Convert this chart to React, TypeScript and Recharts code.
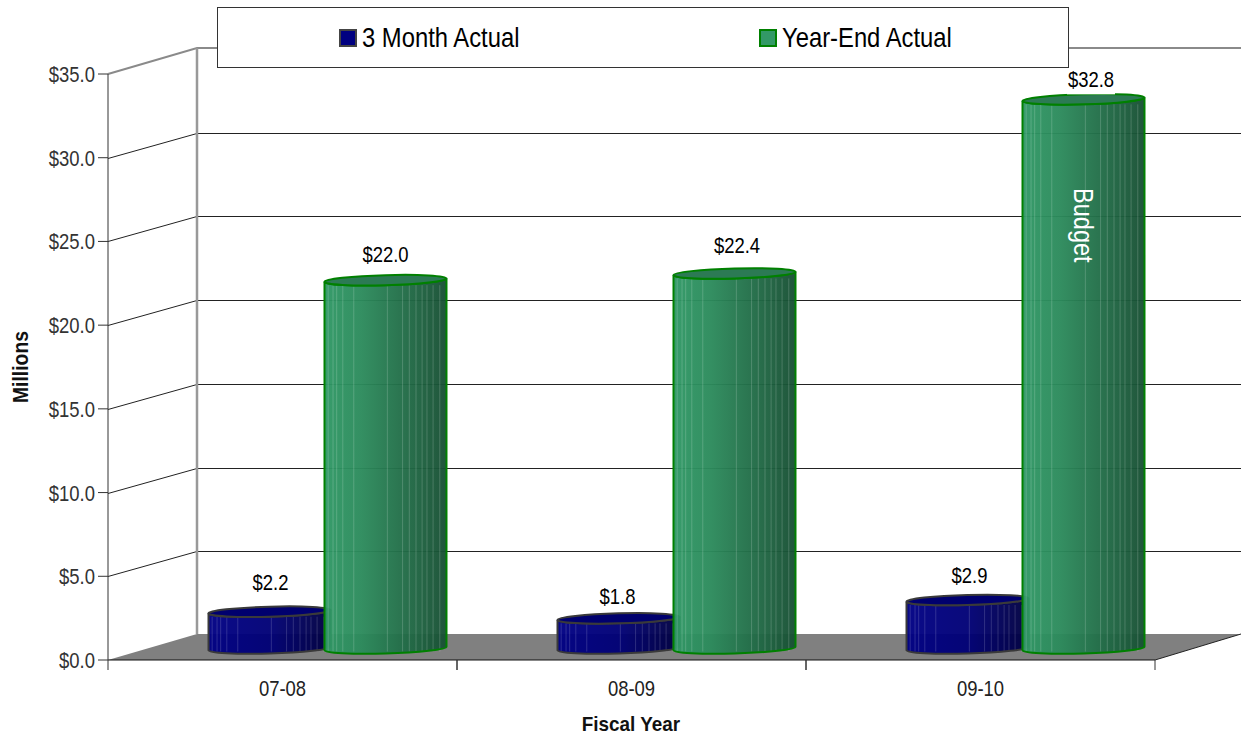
import { BarChart, Bar, XAxis, YAxis, CartesianGrid, LabelList } from "recharts";

const fiscalYears = ["07-08", "08-09", "09-10"];
const threeMonthActual = [2.2, 1.8, 2.9];
const yearEndActual = [22.0, 22.4, 32.8];
const yearEndNotes = ["", "", "Budget"];
const yTicks = [0, 5, 10, 15, 20, 25, 30, 35];

const rows = fiscalYears.map((year, i) => ({
  year,
  threeMonth: threeMonthActual[i],
  yearEnd: yearEndActual[i],
  note: yearEndNotes[i],
}));

const WIDTH = 1241;
const HEIGHT = 738;
const FONT = '"Liberation Sans", Arial, sans-serif';
const CONDENSE = 0.84;

// fake 3d: the back wall sits up and to the right of the axis plane
const WALL_DX = 89;
const WALL_DY = 26;
const BAR_DX = 44.5;
const BAR_DY = 11.5;
const BAND = 349;
const ELLIPSE_RY = 5;
const TILT = 1.7;

const STRIPES = [0.03, 0.07, 0.1, 0.15, 0.24, 0.515, 0.64, 0.695, 0.75, 0.8, 0.84, 0.89, 0.945];

// no narrow face is installed, so squeeze the regular one horizontally
function NarrowText(props: any) {
  const { x, y, size = 22, rotate = 0, squeeze = CONDENSE, anchor = "middle", fill = "#000", bold, children } = props;
  return (
    <text
      transform={`translate(${x},${y}) rotate(${rotate}) scale(${squeeze},1)`}
      textAnchor={anchor}
      fontFamily={FONT}
      fontSize={size}
      fontWeight={bold ? "bold" : "normal"}
      fill={fill}
    >
      {children}
    </text>
  );
}

function WallLine(props: any) {
  const { x1, x2, y1 } = props;
  const y = Math.round(y1);
  const bx = x1 + WALL_DX;
  const by = y - WALL_DY;
  const isTop = y <= 75;
  const isFloor = y >= 659;
  if (isFloor) {
    return (
      <g key="floor">
        <polygon
          points={`${x1},${y} ${bx},${by} ${WIDTH},${by} ${x2},${y}`}
          fill="#808080"
        />
        <line x1={x2} y1={y} x2={WIDTH} y2={by} stroke="#222" />
      </g>
    );
  }
  if (isTop) {
    return (
      <g key="top">
        <polyline
          points={`${x1},${y} ${bx},${by} ${WIDTH},${by}`}
          fill="none"
          stroke="#8a8a8a"
          strokeWidth={2}
        />
        <line x1={bx} y1={by} x2={bx} y2={by + 586} stroke="#999" strokeWidth={2.5} />
      </g>
    );
  }
  return (
    <polyline
      key={y}
      points={`${x1},${y + 0.5} ${bx},${by + 1.5} ${WIDTH},${by + 1.5}`}
      fill="none"
      stroke="#222"
      strokeWidth={1}
    />
  );
}

function Cylinder(props: any) {
  const { x, y, width, height, gradient, edge, cap, stripeAlpha } = props;
  const left = x + BAR_DX;
  const right = left + width;
  const top = y - BAR_DY;
  const bottom = y + height - BAR_DY;
  const rx = width / 2;
  const arc = `A${rx} ${ELLIPSE_RY} -1.6`;
  const body =
    `M${left} ${top + TILT} L${left} ${bottom + TILT} ${arc} 0 0 ${right} ${bottom - TILT} ` +
    `L${right} ${top - TILT} ${arc} 0 1 ${left} ${top + TILT} Z`;
  const capPath =
    `M${left} ${top + TILT} ${arc} 0 1 ${right} ${top - TILT} ` +
    `${arc} 0 1 ${left} ${top + TILT} Z`;
  return (
    <g>
      <path d={body} fill={`url(#${gradient})`} fillOpacity={0.96} />
      {STRIPES.map((f) => (
        <line
          key={f}
          x1={left + f * width}
          x2={left + f * width}
          y1={top + 5}
          y2={bottom + 3}
          stroke="#fff"
          strokeOpacity={stripeAlpha}
        />
      ))}
      <path d={body} fill="none" stroke={edge} strokeWidth={2} />
      <path d={capPath} fill={cap} stroke={edge} strokeWidth={2} />
    </g>
  );
}

function ValueLabel(props: any) {
  const { x, y, width, value, index, nudges, notes } = props;
  const cx = x + BAR_DX + width / 2;
  const top = y - BAR_DY;
  const [nx, ny] = nudges[index];
  const note = notes ? notes[index] : "";
  return (
    <g>
      <rect x={cx + nx - 24} y={top + ny - 12} width={48} height={26} fill="#fff" />
      <NarrowText x={cx + nx} y={top + ny + 7} size={22}>
        ${Number(value).toFixed(1)}
      </NarrowText>
      {note && (
        <NarrowText x={cx - 10} y={top + 126} size={27} rotate={90} fill="#fff" squeeze={0.87}>
          {note}
        </NarrowText>
      )}
    </g>
  );
}

function YearTick(props: any) {
  const { x, payload } = props;
  return (
    <g>
      <line x1={x - BAND / 2} x2={x - BAND / 2} y1={660} y2={670} stroke="#333" />
      <line x1={x + BAND / 2} x2={x + BAND / 2} y1={660} y2={670} stroke="#333" />
      <NarrowText x={x} y={696} size={22} fill="#222">
        {payload.value}
      </NarrowText>
    </g>
  );
}

function DollarTick(props: any) {
  const { y, payload } = props;
  return (
    <NarrowText x={95} y={y + 8} size={22} anchor="end" fill="#333">
      ${payload.value.toFixed(1)}
    </NarrowText>
  );
}

const legendItems = [
  { name: "3 Month Actual", left: 339, fill: "#000080", edge: "#444" },
  { name: "Year-End Actual", left: 759, fill: "#339966", edge: "#008000" },
];

export default function App() {
  return (
    <div
      style={{
        position: "absolute",
        left: 0,
        top: 0,
        width: WIDTH,
        height: HEIGHT,
        background: "#fff",
        overflow: "hidden",
      }}
    >
      <BarChart
        width={WIDTH}
        height={HEIGHT}
        data={rows}
        margin={{ top: 74, right: 86, bottom: 38, left: 48 }}
        barSize={122}
        barGap={-6}
      >
        <defs>
          <linearGradient id="navyBar" x1="0" x2="1" y1="0" y2="0">
            <stop offset="0" stopColor="#000084" />
            <stop offset="0.5" stopColor="#000076" />
            <stop offset="1" stopColor="#00003e" />
          </linearGradient>
          <linearGradient id="greenBar" x1="0" x2="1" y1="0" y2="0">
            <stop offset="0" stopColor="#2f9865" />
            <stop offset="0.3" stopColor="#2c8b5c" />
            <stop offset="1" stopColor="#174f33" />
          </linearGradient>
        </defs>
        <CartesianGrid vertical={false} horizontal={WallLine} />
        <XAxis
          dataKey="year"
          stroke="#111"
          tickLine={false}
          tick={YearTick}
          height={40}
          interval={0}
          label={() => (
            <NarrowText x={631} y={731} size={21} squeeze={0.9} bold fill="#111">
              Fiscal Year
            </NarrowText>
          )}
        />
        <YAxis
          domain={[0, 35]}
          ticks={yTicks}
          width={60}
          stroke="#333"
          tickSize={10}
          tick={DollarTick}
          label={() => (
            <NarrowText x={27.5} y={367} size={22} squeeze={0.88} rotate={-90} bold fill="#111">
              Millions
            </NarrowText>
          )}
        />
        <Bar
          dataKey="threeMonth"
          isAnimationActive={false}
          shape={(p: any) => (
            <Cylinder {...p} gradient="navyBar" edge="#3a3a3a" cap="#00006e" stripeAlpha={0.16} />
          )}
        >
          <LabelList
            dataKey="threeMonth"
            content={(p: any) => (
              <ValueLabel {...p} nudges={[[1, -29], [-1, -21], [2, -24]]} />
            )}
          />
        </Bar>
        <Bar
          dataKey="yearEnd"
          isAnimationActive={false}
          shape={(p: any) => (
            <Cylinder {...p} gradient="greenBar" edge="#008000" cap="#2c7a54" stripeAlpha={0.18} />
          )}
        >
          <LabelList
            dataKey="yearEnd"
            content={(p: any) => (
              <ValueLabel
                {...p}
                nudges={[[0, -25], [2.5, -27], [7.5, -19]]}
                notes={yearEndNotes}
              />
            )}
          />
        </Bar>
      </BarChart>
      <div
        style={{
          position: "absolute",
          left: 217,
          top: 7,
          width: 850,
          height: 59,
          background: "#fff",
          border: "1px solid #333",
          fontFamily: FONT,
          fontSize: 28,
          color: "#000",
        }}
      >
        {legendItems.map((item) => (
          <div
            key={item.name}
            style={{
              position: "absolute",
              left: item.left - 218,
              top: 0,
              height: 59,
              display: "flex",
              alignItems: "center",
              whiteSpace: "nowrap",
            }}
          >
            <span
              style={{
                display: "inline-block",
                width: 14,
                height: 14,
                marginRight: 5,
                background: item.fill,
                border: `2px solid ${item.edge}`,
              }}
            />
            <span style={{ display: "inline-block", transform: "scaleX(0.85)", transformOrigin: "left center" }}>
              {item.name}
            </span>
          </div>
        ))}
      </div>
    </div>
  );
}
